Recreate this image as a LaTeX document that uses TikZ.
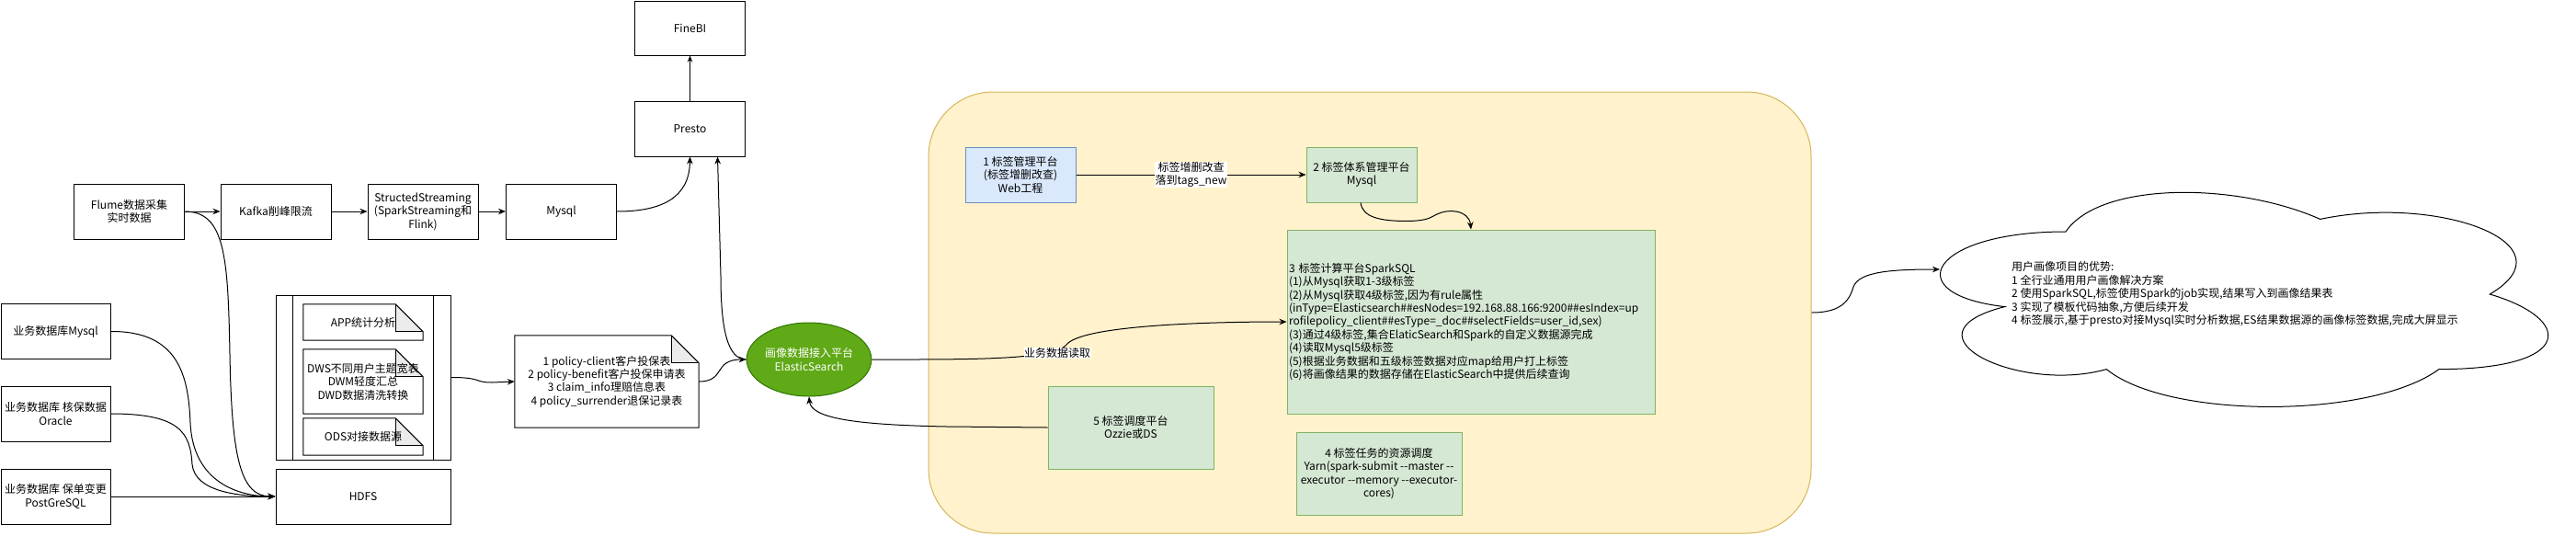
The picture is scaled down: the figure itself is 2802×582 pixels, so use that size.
\documentclass[tikz,border=0pt]{standalone}
\usepackage{fontspec}
\setmainfont{Noto Sans CJK SC}
\usetikzlibrary{arrows.meta,shapes.geometric}
\pgfdeclarelayer{bg}
\pgfsetlayers{bg,main}
\definecolor{bluefill}{HTML}{DAE8FC}
\definecolor{blueline}{HTML}{6C8EBF}
\definecolor{greenfill}{HTML}{D5E8D4}
\definecolor{greenline}{HTML}{82B366}
\definecolor{yelfill}{HTML}{FFF2CC}
\definecolor{yelline}{HTML}{D6B656}
\definecolor{esfill}{HTML}{60A917}
\definecolor{esline}{HTML}{2D7600}
\definecolor{foldgray}{HTML}{EBEBEB}
\newcommand\drawnote[1]{%
  \begin{pgfonlayer}{bg}
  \fill[foldgray] ([xshift=-30pt]#1.north east) -- ([xshift=-30pt,yshift=-30pt]#1.north east) -- ([yshift=-30pt]#1.north east) -- cycle;
  \end{pgfonlayer}
  \draw[line width=1pt] (#1.north west) -- ([xshift=-30pt]#1.north east) -- ([yshift=-30pt]#1.north east) -- (#1.south east) -- (#1.south west) -- cycle;
  \draw[line width=1pt] ([xshift=-30pt]#1.north east) -- ([xshift=-30pt,yshift=-30pt]#1.north east) -- ([yshift=-30pt]#1.north east);
}
\tikzset{
  base/.style={font=\fontsize{12}{14.4}\selectfont, align=center, inner sep=1pt},
  box/.style={base, draw, line width=1pt, minimum width=120pt, minimum height=60pt},
  gbox/.style={base, draw=greenline, fill=greenfill, line width=1pt},
  bbox/.style={base, draw=blueline, fill=bluefill, line width=1pt},
  notebox/.style={base, minimum width=130pt},
  lbl/.style={base, fill=white, inner sep=0.5pt},
  arr/.style={line width=1pt, -{Stealth[length=8pt,width=6.5pt]}},
  thinarr/.style={line width=0.6pt, -{Stealth[length=7pt,width=5.5pt]}},
}
\begin{document}
\begin{tikzpicture}[x=1pt,y=-1pt]
\useasboundingbox (0,0) rectangle (2802,582);
% yellow platform
\node[draw=yelline, fill=yelfill, line width=1pt, rounded corners=70pt, minimum width=960pt, minimum height=480pt] (plat) at (1490,340) {};

% top streaming row
\node[box] (flume) at (140.5,230) {Flume数据采集\\实时数据};
\node[box] (kafka) at (300,230) {Kafka削峰限流};
\node[box] (ss) at (460,230) {StructedStreaming\\(SparkStreaming和\\Flink)};
\node[box] (mysql) at (610.5,230) {Mysql};
\node[box] (presto) at (750.5,140) {Presto};
\node[box, minimum height=59pt] (finebi) at (750.5,30.5) {FineBI};

% business dbs
\node[box, minimum width=119pt] (bizmysql) at (60.5,360.5) {业务数据库Mysql};
\node[box, minimum width=119pt] (oracle) at (60.5,450) {业务数据库 核保数据\\Oracle};
\node[box, minimum width=119pt] (pg) at (60.5,540) {业务数据库 保单变更\\PostGreSQL};

% hdfs and warehouse
\node[box, minimum width=190pt] (hdfs) at (395,540) {HDFS};
\node[box, minimum width=190pt, minimum height=179pt] (dw) at (395,410.5) {};
\draw[line width=1pt] ([xshift=19pt]dw.north west) -- ([xshift=19pt]dw.south west);
\draw[line width=1pt] ([xshift=-19pt]dw.north east) -- ([xshift=-19pt]dw.south east);
\node[notebox, minimum height=39pt] (app) at (395,350.5) {APP统计分析};
\drawnote{app}
\node[notebox, minimum height=70pt] (dws) at (395,415) {DWS不同用户主题宽表\\DWM轻度汇总\\DWD数据清洗转换};
\drawnote{dws}
\node[notebox, minimum height=40pt] (ods) at (395,475) {ODS对接数据源};
\drawnote{ods}

% policy note
\node[base, minimum width=200pt, minimum height=100pt] (pn) at (660,415) {1 policy-client客户投保表\\2 policy-benefit客户投保申请表\\3 claim\_info理赔信息表\\4 policy\_surrender退保记录表};
\drawnote{pn}

% ES
\node[base, ellipse, draw=esline, fill=esfill, line width=1pt, text=white, minimum width=120pt, minimum height=80pt, inner sep=0pt] (es) at (880,391) {画像数据接入平台\\ElasticSearch};

% platform boxes
\node[bbox, minimum width=120pt, minimum height=60pt] (box1) at (1110,190) {1 标签管理平台\\(标签增删改查)\\Web工程};
\node[gbox, minimum width=120pt, minimum height=60pt] (box2) at (1481,190) {2 标签体系管理平台\\Mysql};
\node[gbox, minimum width=400pt, minimum height=200pt, text width=396pt, align=left, inner sep=2pt] (box3) at (1600,350) {3 标签计算平台SparkSQL\\(1)从Mysql获取1-3级标签\\(2)从Mysql获取4级标签,因为有rule属性\\(inType=Elasticsearch\#\#esNodes=192.168.88.166:9200\#\#esIndex=up\\rofilepolicy\_client\#\#esType=\_doc\#\#selectFields=user\_id,sex)\\(3)通过4级标签,集合ElaticSearch和Spark的自定义数据源完成\\(4)读取Mysql5级标签\\(5)根据业务数据和五级标签数据对应map给用户打上标签\\(6)将画像结果的数据存储在ElasticSearch中提供后续查询};
\node[gbox, minimum width=180pt, minimum height=90pt] (box5) at (1230,465) {5 标签调度平台\\Ozzie或DS};
\node[gbox, minimum width=180pt, minimum height=90pt] (box4) at (1500,515) {4 标签任务的资源调度\\Yarn(spark-submit -{}-master -{}-\\executor -{}-memory -{}-executor-\\cores)};

% cloud
\draw[line width=1pt, fill=white] (2247,252)
  .. controls (2099.4,252) and (2062.5,320) .. (2180.58,333.6)
  .. controls (2062.5,363.52) and (2195.34,428.8) .. (2291.28,401.6)
  .. controls (2357.7,456) and (2579.1,456) .. (2652.9,401.6)
  .. controls (2800.5,401.6) and (2800.5,347.2) .. (2708.25,320)
  .. controls (2800.5,265.6) and (2652.9,211.2) .. (2523.75,238.4)
  .. controls (2431.5,197.6) and (2283.9,197.6) .. (2247,252) -- cycle;
\coordinate (cloudin) at (2110,293);
\node[base, align=left, anchor=west, inner sep=0pt] (cloudtxt) at (2188,320) {用户画像项目的优势:\\1 全行业通用用户画像解决方案\\2 使用SparkSQL,标签使用Spark的job实现,结果写入到画像结果表\\3 实现了模板代码抽象,方便后续开发\\4 标签展示,基于presto对接Mysql实时分析数据,ES结果数据源的画像标签数据,完成大屏显示};

% connectors
\draw[arr] (flume.east) -- (kafka.west);
\draw[arr] (kafka.east) -- (ss.west);
\draw[arr] (ss.east) -- (mysql.west);
\draw[arr] (mysql.east) .. controls (720,230) and (750,215) .. (presto.south);
\draw[thinarr] (presto.north) -- (finebi.south);
\draw[arr] (flume.east) .. controls (245,230) and (248,280) .. (250,385) .. controls (252,500) and (262,540) .. (hdfs.west);
\draw[arr] (bizmysql.east) .. controls (195,360) and (205,410) .. (207,460) .. controls (210,525) and (260,540) .. (hdfs.west);
\draw[arr] (oracle.east) .. controls (195,450) and (207,470) .. (209,505) .. controls (212,535) and (260,540) .. (hdfs.west);
\draw[arr] (pg.east) -- (hdfs.west);
\draw[arr] (dw.east) .. controls (525,410.5) and (515,416) .. (535,416) -- (pn.west);
\draw[arr] (pn.east) .. controls (790,415) and (775,391) .. (es.west);
\draw[arr] (es.west) .. controls (792,391) and (784,360) .. (784,300) -- ([xshift=30pt]presto.south);
\draw[arr] (es.east) .. controls (1050,391) and (1145,392) .. (1160,375) .. controls (1175,355) and (1300,350) .. (box3.west);
\node[lbl] (readlbl) at (1150,384) {业务数据读取};
\draw[arr] (box5.west) -- (1030,464) .. controls (930,462) and (882,455) .. (es.south);
\draw[arr] (box1.east) -- (box2.west) node[midway, lbl] (tagslbl) {标签增删改查\\落到tags\_new};
\draw[arr] ([xshift=-1pt]box2.south) .. controls (1482,236) and (1500,240.5) .. (1531,240.5) .. controls (1555,240) and (1556,236) .. (1563,233) .. controls (1575,227) and (1598,228) .. (box3.north);
\draw[arr] (plat.east) .. controls (2005,340) and (2012,325) .. (2016,312) .. controls (2022,295) and (2060,293) .. (cloudin);
\end{tikzpicture}
\end{document}
